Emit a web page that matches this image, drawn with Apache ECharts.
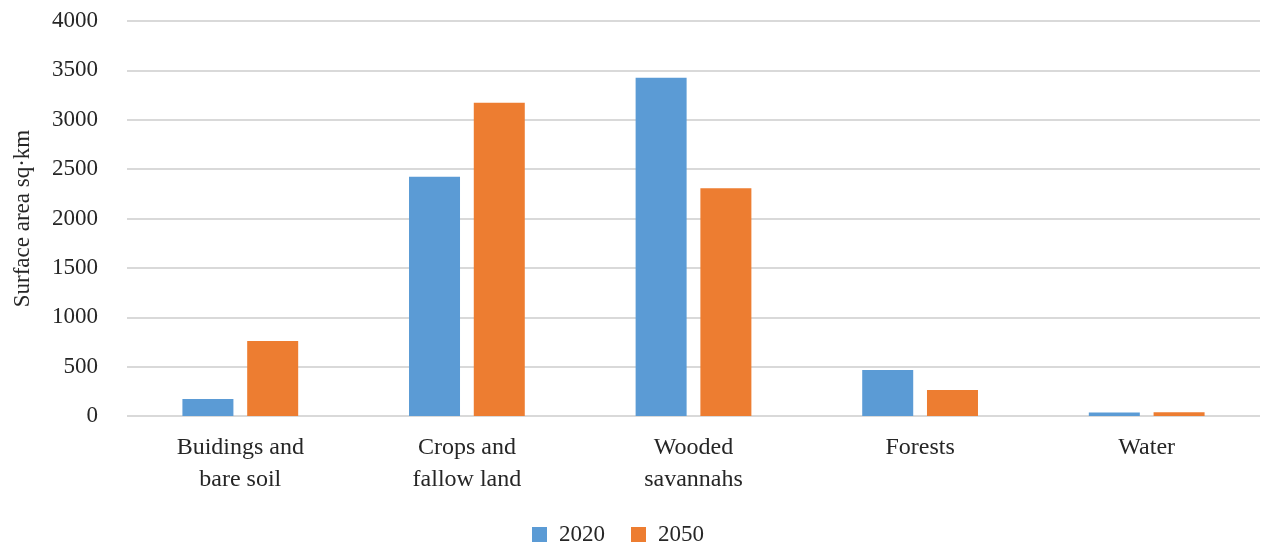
<!DOCTYPE html>
<html>
<head>
<meta charset="utf-8">
<script src="https://cdn.jsdelivr.net/npm/echarts@6/dist/echarts.min.js"></script>
<style>
  html, body { margin: 0; padding: 0; background: #fff; }
  #chart { width: 1261px; height: 542px; }
</style>
</head>
<body>
<div id="chart"></div>
<script>
// Land cover classes and their surface area (sq·km)
const categories = ['Buidings and\nbare soil', 'Crops and\nfallow land', 'Wooded\nsavannahs', 'Forests', 'Water'];
const values2020 = [172, 2423, 3426, 466, 35];
const values2050 = [760, 3173, 2306, 263, 37];
const seriesNames = ['2020', '2050'];
const yTicks = { min: 0, max: 4000, interval: 500 };

const FONT = '"Liberation Serif", "Times New Roman", serif';
const TEXT = '#262626';
const chart = echarts.init(document.getElementById('chart'));

chart.setOption({
  animation: false,
  backgroundColor: '#ffffff',
  textStyle: { fontFamily: FONT, color: TEXT },
  grid: { left: 127, right: 1, top: 21, bottom: 126, containLabel: false, outerBoundsMode: 'none' },
  legend: {
    data: seriesNames,
    left: 527,
    top: 518,
    itemWidth: 15,
    itemHeight: 15,
    itemGap: 26,
    icon: 'rect',
    textStyle: { fontFamily: FONT, fontSize: 23, color: TEXT, padding: [0, 0, 0, 7] }
  },
  xAxis: {
    type: 'category',
    data: categories,
    axisLine: { show: false },
    axisTick: { show: false },
    axisLabel: {
      interval: 0,
      margin: 16,
      fontFamily: FONT,
      fontSize: 24,
      lineHeight: 32,
      color: TEXT
    }
  },
  yAxis: {
    type: 'value',
    min: yTicks.min,
    max: yTicks.max,
    interval: yTicks.interval,
    name: 'Surface area sq·km',
    nameLocation: 'middle',
    nameGap: 93,
    nameTextStyle: { fontFamily: FONT, fontSize: 23, color: TEXT },
    axisLine: { show: false },
    axisTick: { show: false },
    axisLabel: {
      margin: 29,
      fontFamily: FONT,
      fontSize: 23,
      color: TEXT,
      formatter: (v) => String(v)
    },
    splitLine: { lineStyle: { color: '#d9d9d9', width: 2 } }
  },
  series: [
    {
      name: seriesNames[0],
      type: 'bar',
      data: values2020,
      barWidth: 51,
      barGap: '27%',
      itemStyle: { color: '#5b9bd5' }
    },
    {
      name: seriesNames[1],
      type: 'bar',
      data: values2050,
      barWidth: 51,
      barGap: '27%',
      itemStyle: { color: '#ed7d31' }
    }
  ]
});
</script>
</body>
</html>
